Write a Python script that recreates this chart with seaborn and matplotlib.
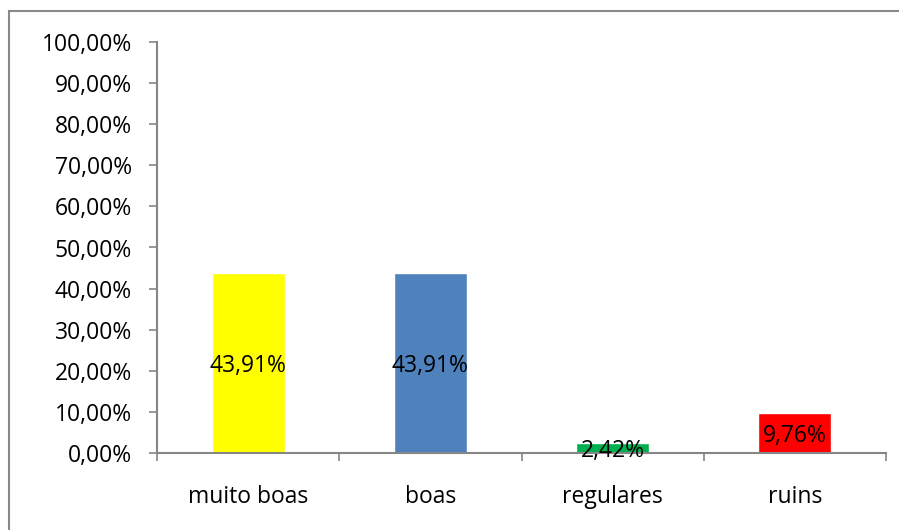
import matplotlib
matplotlib.use("Agg")
import matplotlib.pyplot as plt
import seaborn as sns
import pandas as pd
from matplotlib.patches import Rectangle
from matplotlib.ticker import FuncFormatter, FixedLocator

categories = ["muito boas", "boas", "regulares", "ruins"]
values = [43.91, 43.91, 2.42, 9.76]
colors = ["#FFFF00", "#4F81BD", "#00B050", "#FF0000"]
y_ticks = [0, 10, 20, 30, 40, 50, 60, 70, 80, 90, 100]

sns.set_theme(style="white")
plt.rcParams['font.family'] = ['Open Sans', 'DejaVu Sans']

FS = 16.5
W, H = 899, 530
fig = plt.figure(figsize=(W / 100, H / 100), dpi=100)
ax = fig.add_axes([157 / W, 1 - 453 / H, (886 - 157) / W, (453 - 42) / H])

df = pd.DataFrame({"cat": categories, "val": values})
sns.barplot(data=df, x="cat", y="val", hue="cat", order=categories,
            palette=dict(zip(categories, colors)), width=0.4, saturation=1,
            legend=False, ax=ax)

ax.set_xlim(-0.5, len(categories) - 0.5)
ax.set_ylim(0, 100)
ax.set_yticks(y_ticks)
ax.yaxis.set_major_formatter(FuncFormatter(lambda v, p: f"{v:.2f}%".replace(".", ",")))
ax.set_xlabel("")
ax.set_ylabel("")

gray = "#868686"
for s in ["top", "right"]:
    ax.spines[s].set_visible(False)
for s in ["left", "bottom"]:
    ax.spines[s].set_color(gray)
    ax.spines[s].set_linewidth(1.5)

ax.tick_params(axis="y", which="major", left=True, length=6, width=1.2,
               color=gray, labelsize=FS, labelcolor="black", pad=12)
ax.tick_params(axis="x", which="major", bottom=False, length=0,
               labelsize=FS, labelcolor="black", pad=23)
ax.xaxis.set_minor_locator(FixedLocator([i - 0.5 for i in range(len(categories) + 1)]))
ax.tick_params(axis="x", which="minor", bottom=True, length=6, width=1.2, color=gray)

for i, v in enumerate(values):
    ax.text(i, v / 2, f"{v:.2f}%".replace(".", ","), ha="center", va="center_baseline",
            fontsize=FS, color="black")

fig.patches.append(Rectangle((9 / W, -0.1), 1.2, (1 - 11 / H) + 0.1,
                             transform=fig.transFigure, fill=False,
                             edgecolor="#898989", linewidth=1.5))

fig.savefig("out.png", dpi=100)
